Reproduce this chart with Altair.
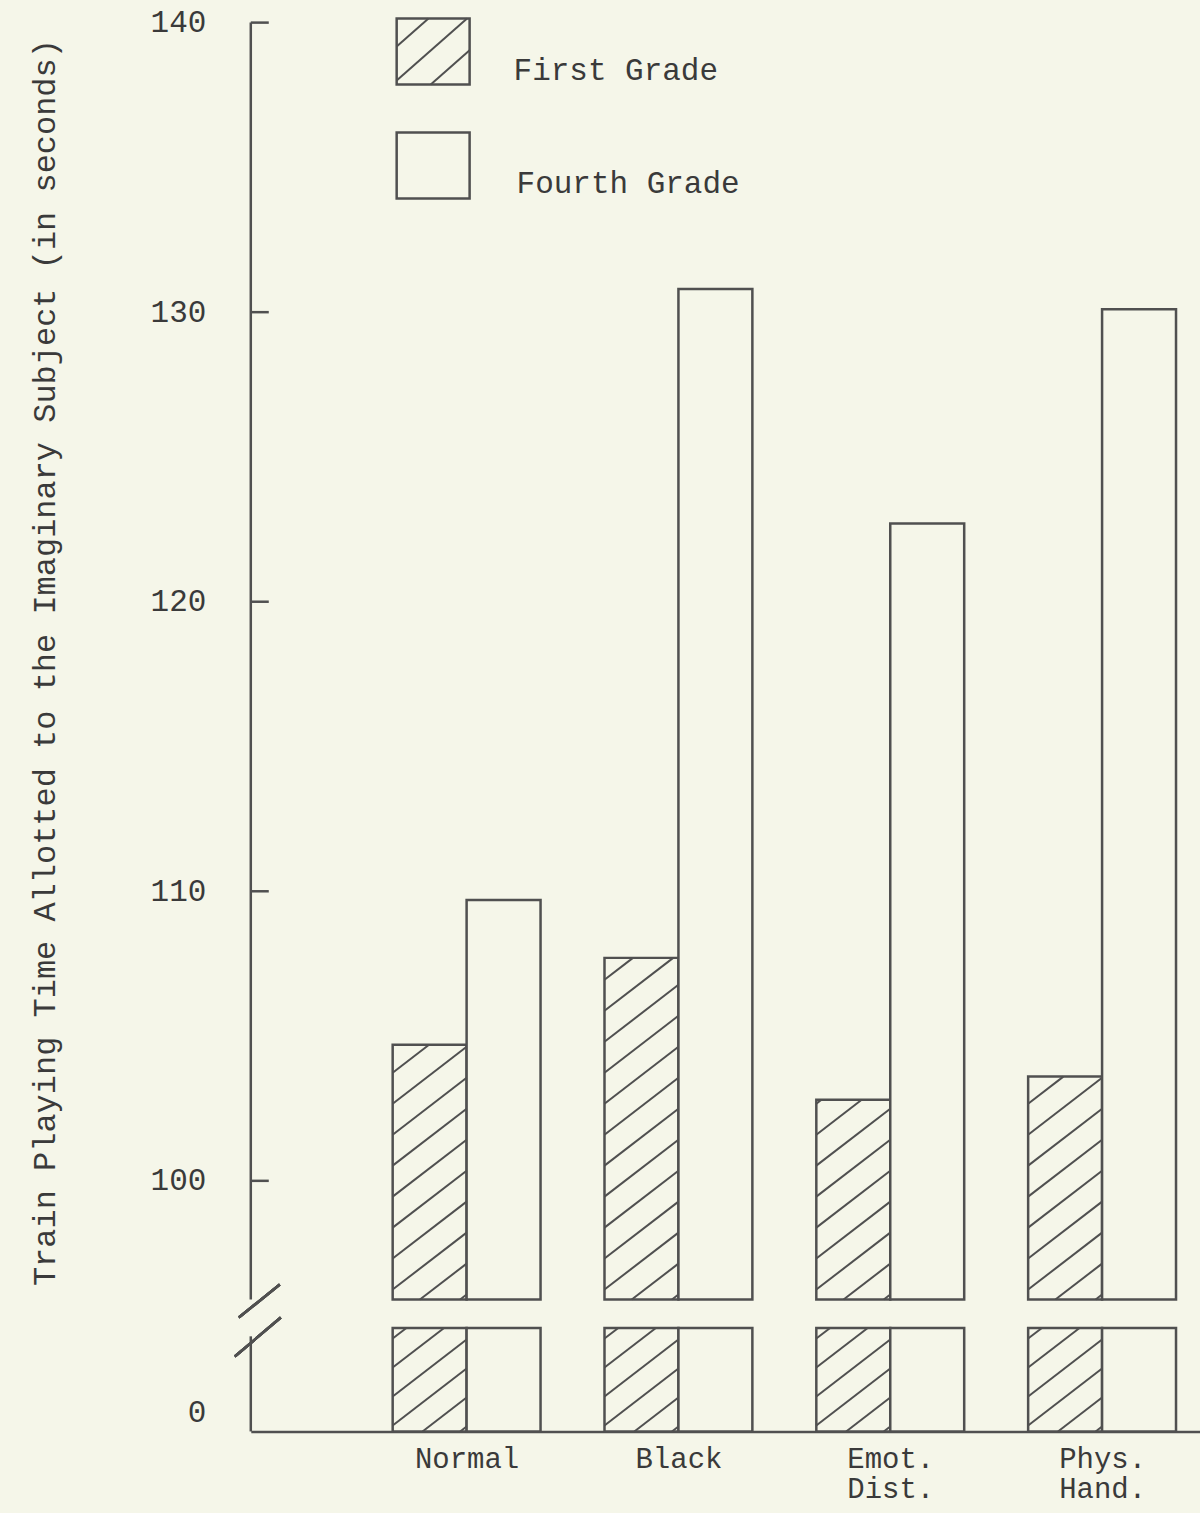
import json
import math
import altair as alt
import pandas as pd

# ---------------- data ----------------
categories = ["Normal", "Black", "Emot. Dist.", "Phys. Hand."]
category_lines = [["Normal"], ["Black"], ["Emot.", "Dist."], ["Phys.", "Hand."]]
series = ["First Grade", "Fourth Grade"]
first_grade = [104.7, 107.7, 102.8, 103.6]
fourth_grade = [109.7, 130.8, 122.7, 130.1]
tick_values = [100, 110, 120, 130, 140]
label_values = [0, 100, 110, 120, 130, 140]
y_title = "Train Playing Time Allotted to the Imaginary Subject (in seconds)"

# broken axis: values between break_low and break_high are cut out
break_low, break_high, y_max = 4, 95.9, 140
stub_value = 3.7          # height of the stubs drawn below the break
axis_low_top = 3.4        # top of the lower axis segment

# ---------------- layout / style ----------------
W, H = 950, 1410
y_domain = [0, break_low, break_high, y_max]
y_range = [H, 1298, 1278, 0]
ppu_hi = (y_range[2] - y_range[3]) / (y_domain[3] - y_domain[2])
ppu_lo = (y_range[0] - y_range[1]) / (y_domain[1] - y_domain[0])
group_left, group_step, bar_w = 142, 212, 74

INK = "#505050"
TEXT = "#3a3a3a"
BG = "#f5f6e9"
FONT = "Liberation Mono"
FS = 31


def hatch_segments(h_px, w, spacing, slope, phase):
    segs = []
    k = math.floor((-slope * w - phase) / spacing)
    while True:
        c = phase + k * spacing
        if c >= h_px:
            break
        xs = max(0.0, -c / slope)
        xe = min(w, (h_px - c) / slope)
        if xe - xs > 2:
            segs.append((xs, c + slope * xs, xe, c + slope * xe))
        k += 1
    return segs


# bars table
rows = []
for i, cat in enumerate(categories):
    for j, (s, vals) in enumerate(zip(series, [first_grade, fourth_grade])):
        x0 = group_left + i * group_step + j * bar_w
        rows.append(dict(category=cat, series=s, value=vals[i], x0=x0, x1=x0 + bar_w,
                         base=break_high, stub=stub_value, zero=0))
bars = pd.DataFrame(rows)

# hatching for first grade bars (upper part and stub)
hrows = []
for _, r in bars[bars.series == series[0]].iterrows():
    h_up = (r.value - break_high) * ppu_hi
    for xs, ys, xe, ye in hatch_segments(h_up, bar_w, 31, 0.77, 10):
        hrows.append(dict(hx=r.x0 + xs, hx2=r.x0 + xe,
                          hy=break_high + ys / ppu_hi, hy2=break_high + ye / ppu_hi))
    h_lo = r.stub * ppu_lo
    for xs, ys, xe, ye in hatch_segments(h_lo, bar_w, 29, 0.77, 6):
        hrows.append(dict(hx=r.x0 + xs, hx2=r.x0 + xe, hy=ys / ppu_lo, hy2=ye / ppu_lo))

# legend (pixel layout converted to data units of the upper segment)
def px_to_val(ypix):
    return y_max - ypix / ppu_hi

leg_x0, leg_w, leg_h, leg_top, leg_step = 146, 73, 66, -4, 114
lrows = []
for k, s in enumerate(series):
    top = leg_top + k * leg_step
    lrows.append(dict(series=s, lx=leg_x0, lx2=leg_x0 + leg_w,
                      ly=px_to_val(top), ly2=px_to_val(top + leg_h),
                      tx=leg_x0 + leg_w + 44 + 3 * k, ty=px_to_val(top + leg_h / 2 + 19)))
legend = pd.DataFrame(lrows)
lb = legend.iloc[0]
for xs, ys, xe, ye in hatch_segments(leg_h, leg_w, 34, 0.88, 4):
    hrows.append(dict(hx=lb.lx + xs, hx2=lb.lx + xe,
                      hy=lb.ly2 + ys / ppu_hi, hy2=lb.ly2 + ye / ppu_hi))
hatch = pd.DataFrame(hrows)

ticks = pd.DataFrame({"tick": tick_values})
segments = pd.DataFrame({"s0": [break_high, 0], "s1": [y_max, axis_low_top]})

# ---------------- scales / axes ----------------
centers = [group_left + i * group_step + bar_w for i in range(len(categories))]
label_expr = " : ".join(
    f"datum.value == {c} ? {json.dumps(lines)}" for c, lines in zip(centers, category_lines)
) + " : ''"

xscale = alt.Scale(domain=[0, W], range=[0, W], nice=False, zero=False)
yscale = alt.Scale(domain=y_domain, range=y_range, nice=False, zero=False)

xaxis = alt.Axis(values=centers, labelExpr=label_expr, title=None, ticks=False, grid=False,
                 domainColor=INK, domainWidth=2.5, labelFont=FONT, labelFontSize=29,
                 labelColor=TEXT, labelPadding=13, labelLineHeight=30, labelFlush=False,
                 labelOverlap=False)
yaxis = alt.Axis(values=label_values, ticks=False, domain=False, grid=False,
                 labelFont=FONT, labelFontSize=FS, labelColor=TEXT, labelPadding=45,
                 labelOverlap=False,
                 labelOffset={"condition": {"test": "datum.value === 0", "value": -19}, "value": 0},
                 title=y_title, titleFont=FONT, titleFontSize=FS + 1, titleFontWeight="normal",
                 titleColor=TEXT, titlePadding=89, titleY=640)


def X(f):
    return alt.X(f, type="quantitative", scale=xscale, axis=xaxis)


def Y(f):
    return alt.Y(f, type="quantitative", scale=yscale, axis=yaxis)


upper = alt.Chart(bars).mark_rect(fill=BG, stroke=INK, strokeWidth=2.5).encode(
    x=X("x0"), x2="x1", y=Y("value"), y2="base")
stubs = alt.Chart(bars).mark_rect(fill=BG, stroke=INK, strokeWidth=2.5).encode(
    x=X("x0"), x2="x1", y=Y("stub"), y2="zero")
hatch_layer = alt.Chart(hatch).mark_rule(color=INK, strokeWidth=2).encode(
    x=X("hx"), x2="hx2", y=Y("hy"), y2="hy2")
leg_boxes = alt.Chart(legend).mark_rect(fill="transparent", stroke=INK, strokeWidth=2.5).encode(
    x=X("lx"), x2="lx2", y=Y("ly"), y2="ly2")
leg_text = alt.Chart(legend).mark_text(align="left", baseline="middle", font=FONT,
                                       fontSize=FS, color=TEXT).encode(
    x=X("tx"), y=Y("ty"), text="series:N")
tick_layer = alt.Chart(ticks).mark_rule(color=INK, strokeWidth=2.5).encode(
    x=alt.value(0), x2=alt.value(18), y=Y("tick"))
axis_segments = alt.Chart(segments).mark_rule(color=INK, strokeWidth=2.5).encode(
    x=alt.value(0), y=Y("s0"), y2="s1")
slash1 = alt.Chart(ticks).mark_rule(color=INK, strokeWidth=2.5).encode(
    x=alt.value(-12), x2=alt.value(29), y=alt.value(1296), y2=alt.value(1263))
slash2 = alt.Chart(ticks).mark_rule(color=INK, strokeWidth=2.5).encode(
    x=alt.value(-16), x2=alt.value(30), y=alt.value(1335), y2=alt.value(1296))

chart = alt.layer(
    upper, stubs, hatch_layer, leg_boxes, leg_text, tick_layer, axis_segments, slash1, slash2
).properties(
    width=W, height=H, background=BG,
    padding={"left": 28, "top": 6, "right": 0, "bottom": 12},
).configure_view(stroke=None)

chart.save("out.html", embed_options={"renderer": "svg", "actions": False})
